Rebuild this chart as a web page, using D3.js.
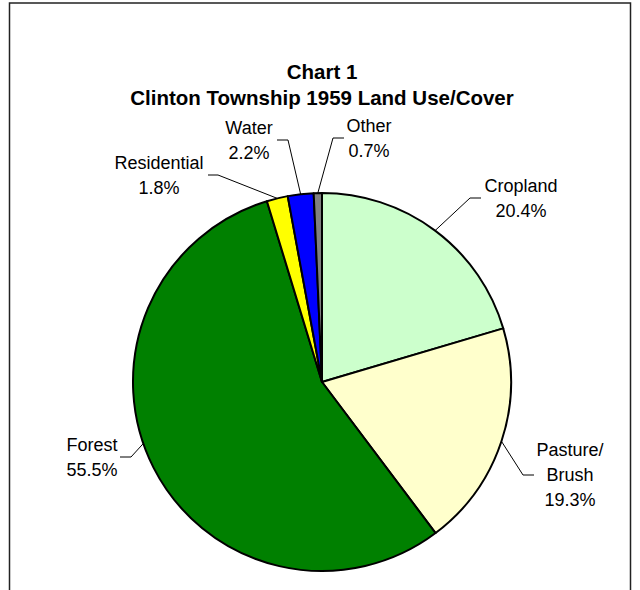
<!DOCTYPE html>
<html>
<head>
<meta charset="utf-8">
<script src="https://cdn.jsdelivr.net/npm/d3@7"></script>
<style>
  html, body { margin: 0; padding: 0; background: #fff; }
  svg { display: block; }
  text { font-family: Arial, "Liberation Sans", sans-serif; fill: #000; }
</style>
</head>
<body>
<div id="chart"></div>
<script>
// ---- data ----
const categories = ["Cropland", "Pasture/\nBrush", "Forest", "Residential", "Water", "Other"];
const values = [20.4, 19.3, 55.5, 1.8, 2.2, 0.7];
const colors = ["#CCFFCC", "#FFFFCC", "#008000", "#FFFF00", "#0000FF", "#808080"];
const titleLines = ["Chart 1", "Clinton Township 1959 Land Use/Cover"];

// ---- layout (label placement relative to pie centre) ----
const labelLayout = [
  { dx: 199, dy: -184, hx1: 148, hx2: 159 },                 // Cropland
  { dx: 248, dy: 93,  hx1: 201, hx2: 212 },                  // Pasture
  { dx: -230, dy: 75, hx1: -191, hx2: -202, leadDeg: 251 },  // Forest
  { dx: -163, dy: -207, hx1: -104, hx2: -114 },              // Residential
  { dx: -73, dy: -242, hx1: -34, hx2: -45 },                 // Water
  { dx: 47, dy: -244, hx1: 11, hx2: 22 }                     // Other
];

const W = 640, H = 590;
const cx = 322, cy = 382, R = 189;

const svg = d3.select("#chart").append("svg")
  .attr("width", W).attr("height", H);

// border
svg.append("rect")
  .attr("x", 9.5).attr("y", 3).attr("width", 621).attr("height", 600)
  .attr("fill", "none").attr("stroke", "#222").attr("stroke-width", 1.5);

// title
svg.append("text")
  .attr("x", cx).attr("text-anchor", "middle")
  .style("font-weight", "bold").style("font-size", "20.5px")
  .selectAll("tspan").data(titleLines).join("tspan")
  .attr("x", cx).attr("y", (d, i) => 79 + i * 26).text(d => d);

const pie = d3.pie().sort(null).value(d => d)(values);
const arc = d3.arc().innerRadius(0).outerRadius(R);
const g = svg.append("g").attr("transform", `translate(${cx},${cy})`);

g.selectAll("path.slice").data(pie).join("path")
  .attr("class", "slice")
  .attr("d", arc)
  .attr("fill", (d, i) => colors[i])
  .attr("stroke", "#000").attr("stroke-width", 2).attr("stroke-linejoin", "round");

// labels and leaders
pie.forEach((d, i) => {
  const L = labelLayout[i];
  const mid = L.leadDeg != null ? L.leadDeg * Math.PI / 180 : (d.startAngle + d.endAngle) / 2;
  const px = Math.sin(mid) * R, py = -Math.cos(mid) * R;
  g.append("polyline")
    .attr("points", `${px},${py} ${L.hx1},${L.dy} ${L.hx2},${L.dy}`)
    .attr("fill", "none").attr("stroke", "#000").attr("stroke-width", 1);
  const lines = categories[i].split("\n").concat([d3.format(".1f")(values[i]) + "%"]);
  const n = lines.length;
  const t = g.append("text").attr("text-anchor", "middle").style("font-size", "18px");
  t.selectAll("tspan").data(lines).join("tspan")
    .attr("x", L.dx)
    .attr("y", (s, k) => L.dy + (k - (n - 1) / 2) * 25)
    .attr("dy", "0.35em")
    .text(s => s);
});
</script>
</body>
</html>
